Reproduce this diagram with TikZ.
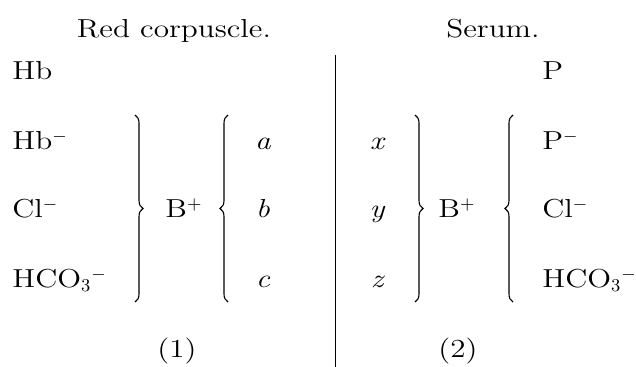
\documentclass[tikz,border=0pt]{standalone}
\usepackage{fontspec}
\setmainfont{Latin Modern Roman}[FakeStretch=1.2]
\usetikzlibrary{decorations.pathreplacing}
\begin{document}
\begin{tikzpicture}[x=0.5pt,y=-0.5pt,
  txt/.style={inner sep=0pt, font=\fontsize{13}{15}\selectfont},
  lbl/.style={txt, anchor=base west},
  ctr/.style={txt, anchor=base},
  brc/.style={decorate, decoration={brace, amplitude=4pt, aspect=0.5}, line width=0.55pt},
  rule/.style={line width=0.45pt}]
\useasboundingbox (0,0) rectangle (636,367);
% titles
\node[ctr] (title1) at (174,38) {Red corpuscle.};
\node[ctr] (title2) at (493,38) {Serum.};
% red corpuscle column
\node[lbl] (hb) at (12,80) {Hb};
\node[lbl] (hbm) at (12,150) {Hb$^-$};
\node[lbl] (cl1) at (12,218) {Cl$^-$};
\node[lbl] (hco1) at (12,288) {HCO$_3{}^-$};
\coordinate (b1t) at (135,115);
\coordinate (b1b) at (135,302);
\draw[brc] (b1t) -- (b1b);
\node[lbl] (bp1) at (165,218) {B$^+$};
\coordinate (b2t) at (228,115);
\coordinate (b2b) at (228,302);
\draw[brc] (b2b) -- (b2t);
\node[ctr] (a) at (263,150) {\itshape a};
\node[ctr] (b) at (263,218) {\itshape b};
\node[ctr] (c) at (263,288) {\itshape c};
\node[ctr] (lab1) at (177,358) {(1)};
% membrane
\coordinate (mt) at (335,55);
\coordinate (mb) at (335,367);
\draw[rule] (mt) -- (mb);
% serum column
\node[ctr] (x) at (377,150) {\itshape x};
\node[ctr] (y) at (377,218) {\itshape y};
\node[ctr] (z) at (377,288) {\itshape z};
\coordinate (b3t) at (415,115);
\coordinate (b3b) at (415,302);
\draw[brc] (b3t) -- (b3b);
\node[lbl] (bp2) at (438,218) {B$^+$};
\coordinate (b4t) at (513,115);
\coordinate (b4b) at (513,302);
\draw[brc] (b4b) -- (b4t);
\node[lbl] (p) at (542,80) {P};
\node[lbl] (pm) at (542,150) {P$^-$};
\node[lbl] (cl2) at (542,218) {Cl$^-$};
\node[lbl] (hco2) at (542,288) {HCO$_3{}^-$};
\node[ctr] (lab2) at (458,358) {(2)};
\end{tikzpicture}
\end{document}
